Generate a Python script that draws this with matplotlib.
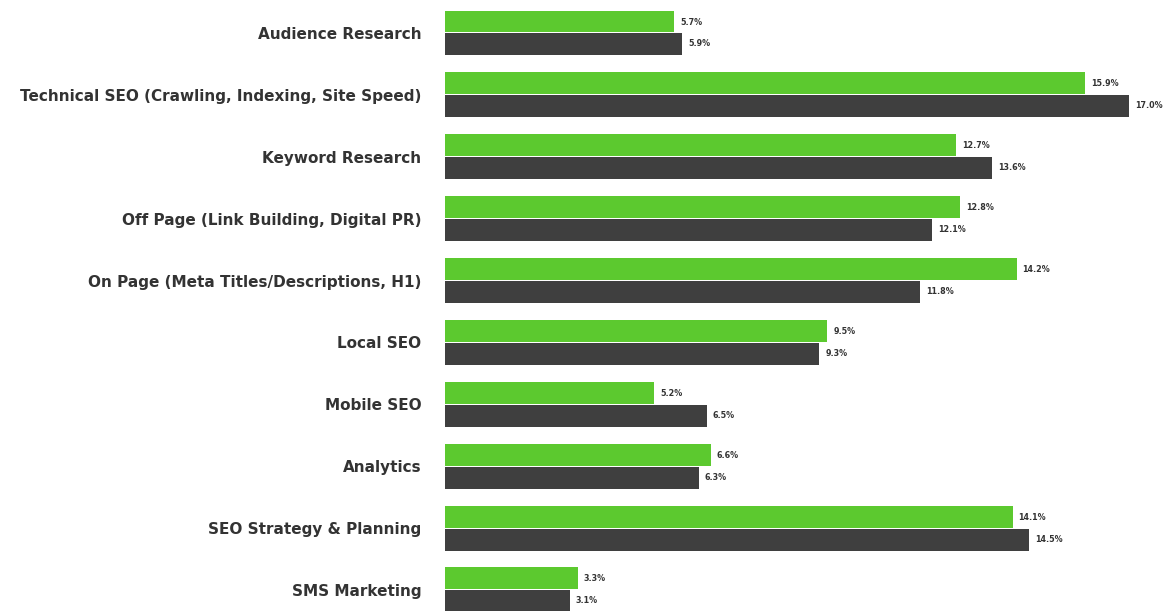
import matplotlib.pyplot as plt
import numpy as np

categories = [
    "Audience Research",
    "Technical SEO (Crawling, Indexing, Site Speed)",
    "Keyword Research",
    "Off Page (Link Building, Digital PR)",
    "On Page (Meta Titles/Descriptions, H1)",
    "Local SEO",
    "Mobile SEO",
    "Analytics",
    "SEO Strategy & Planning",
    "SMS Marketing",
]
green_vals = [5.7, 15.9, 12.7, 12.8, 14.2, 9.5, 5.2, 6.6, 14.1, 3.3]
dark_vals = [5.9, 17.0, 13.6, 12.1, 11.8, 9.3, 6.5, 6.3, 14.5, 3.1]

green = "#5cc92f"
dark = "#3f3f3f"

fig = plt.figure(figsize=(11.68, 6.11), dpi=100)
ax = fig.add_axes([445 / 1168, 0, 1 - 445 / 1168, 1])

y = np.arange(len(categories))
h = 0.355
ax.barh(y - h / 2 - 0.008, green_vals, height=h, color=green)
ax.barh(y + h / 2 + 0.008, dark_vals, height=h, color=dark)

for i in range(len(categories)):
    ax.text(green_vals[i] + 0.15, y[i] - h / 2, "%.1f%%" % green_vals[i],
            va="center", ha="left", fontsize=5.8, fontweight="bold", color="#333333")
    ax.text(dark_vals[i] + 0.15, y[i] + h / 2, "%.1f%%" % dark_vals[i],
            va="center", ha="left", fontsize=5.8, fontweight="bold", color="#333333",
            clip_on=False)

ax.set_xlim(0, (1168 - 445) / 40.25)
ax.set_ylim(9.34, -0.533)
ax.set_yticks(y)
ax.set_yticklabels(categories, fontsize=11, fontweight="bold", color="#333333")
ax.tick_params(axis="y", length=0, pad=17)
ax.set_xticks([])
for s in ax.spines.values():
    s.set_visible(False)

fig.savefig("out.png", dpi=100)
